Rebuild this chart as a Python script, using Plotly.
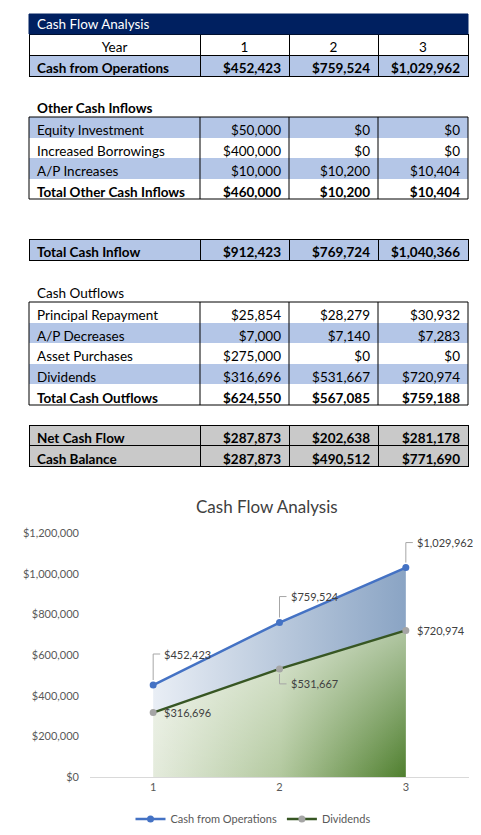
import plotly.graph_objects as go

W, H = 481, 835

# data
years = [1, 2, 3]
cash_from_operations = [452423, 759524, 1029962]
equity_investment = [50000, 0, 0]
increased_borrowings = [400000, 0, 0]
ap_increases = [10000, 10200, 10404]
total_other_inflows = [460000, 10200, 10404]
total_cash_inflow = [912423, 769724, 1040366]
principal_repayment = [25854, 28279, 30932]
ap_decreases = [7000, 7140, 7283]
asset_purchases = [275000, 0, 0]
dividends = [316696, 531667, 720974]
total_cash_outflows = [624550, 567085, 759188]
net_cash_flow = [287873, 202638, 281178]
cash_balance = [287873, 490512, 771690]

# label placement (pixel offsets from the points)
ops_label_dy = [31, 26, 25]
div_label_dy = [0, -15, 0]
div_leader = [False, True, False]

FONT = "Lato"
TSIZE = 13.5
NAVY = "#002060"
LIGHT_BLUE = "#b4c6e7"
GREY = "#c9c9c9"
col_edges = [29, 200, 289, 378, 468]
col_widths = [b - a for a, b in zip(col_edges, col_edges[1:])]


def px(x):
    return x / W


def py(y):
    return 1 - y / H


def money(v):
    return f"${v:,}"


def row(label, vals, fill, b=False):
    return ([label] + [money(v) for v in vals], fill, "bold" if b else "normal")


fig = go.Figure()
shapes = []
annotations = []


def add_table(rows, top, row_h, all_lines=False, head_align=None):
    # rows: (cells, fill, weight); first row goes in the header, body rows share one weight
    align = ["left", "right", "right", "right"]
    head, head_fill, head_weight = rows[0]
    body = rows[1:]
    bottom = top + row_h * len(rows)
    body_vals = [[r[0][c] for r in body] for c in range(4)]
    body_fill = [[r[1] for r in body] for c in range(4)]
    body_weight = body[0][2] if body else "normal"
    line = dict(color="black", width=1) if all_lines else dict(color="rgba(0,0,0,0)", width=0)
    fig.add_trace(go.Table(
        domain=dict(x=[px(col_edges[0]), px(col_edges[-1])], y=[py(bottom + 20), py(top)]),
        columnwidth=col_widths,
        header=dict(values=head, fill_color=head_fill, align=head_align or align,
                    height=row_h, line=line,
                    font=dict(family=FONT, size=TSIZE, color="black", weight=head_weight)),
        cells=dict(values=body_vals, fill_color=body_fill, align=align,
                   height=row_h, line=line,
                   font=dict(family=FONT, size=TSIZE, color="black", weight=body_weight)),
    ))
    return bottom


def add_border(top, bottom):
    shapes.append(dict(type="rect", xref="paper", yref="paper", x0=px(col_edges[0]), x1=px(col_edges[-1]),
                       y0=py(bottom), y1=py(top), line=dict(color="black", width=1)))
    for e in col_edges[1:-1]:
        shapes.append(dict(type="line", xref="paper", yref="paper", x0=px(e), x1=px(e),
                           y0=py(bottom), y1=py(top), line=dict(color="black", width=1)))


# title bar
shapes.append(dict(type="rect", xref="paper", yref="paper", x0=px(29), x1=px(468), y0=py(34), y1=py(14),
                   fillcolor=NAVY, line=dict(color=NAVY, width=1)))
annotations.append(dict(text="Cash Flow Analysis", x=px(35), y=py(24), xref="paper", yref="paper",
                        xanchor="left", yanchor="middle", showarrow=False,
                        font=dict(family=FONT, size=TSIZE, color="white")))

# year / operations
add_table([
    (["Year"] + [str(y) for y in years], "white", "normal"),
    row("Cash from Operations", cash_from_operations, LIGHT_BLUE, True),
], 34, 21, all_lines=True, head_align=["center"] * 4)

# other inflows
annotations.append(dict(text="Other Cash Inflows", x=px(35), y=py(108), xref="paper", yref="paper",
                        xanchor="left", yanchor="middle", showarrow=False,
                        font=dict(family=FONT, size=TSIZE, color="black", weight="bold")))
b = add_table([
    row("Equity Investment", equity_investment, LIGHT_BLUE),
    row("Increased Borrowings", increased_borrowings, "white"),
    row("A/P Increases", ap_increases, LIGHT_BLUE),
], 117, 20.5)
b = add_table([row("Total Other Cash Inflows", total_other_inflows, "white", True)], b, 20.5)
add_border(117, b)

add_table([
    row("Total Cash Inflow", total_cash_inflow, LIGHT_BLUE, True),
], 239, 21.5, all_lines=True)

# outflows
annotations.append(dict(text="Cash Outflows", x=px(35), y=py(293), xref="paper", yref="paper",
                        xanchor="left", yanchor="middle", showarrow=False,
                        font=dict(family=FONT, size=TSIZE, color="black")))
b = add_table([
    row("Principal Repayment", principal_repayment, "white"),
    row("A/P Decreases", ap_decreases, LIGHT_BLUE),
    row("Asset Purchases", asset_purchases, "white"),
    row("Dividends", dividends, LIGHT_BLUE),
], 302, 20.6)
b = add_table([row("Total Cash Outflows", total_cash_outflows, "white", True)], b, 20.6)
add_border(302, b)

add_table([
    row("Net Cash Flow", net_cash_flow, GREY, True),
    row("Cash Balance", cash_balance, GREY, True),
], 425, 20.5, all_lines=True)

# chart: areas (diagonal-looking gradient = horizontal base + vertical white veil)
fig.add_trace(go.Scatter(
    x=years, y=dividends, mode="none", fill="tozeroy", showlegend=False, hoverinfo="skip",
    fillgradient=dict(type="horizontal",
                      colorscale=[[0, "#e4ebdc"], [0.5, "#b3c99f"], [1, "#4f7f2e"]]),
))
fig.add_trace(go.Scatter(
    x=years, y=dividends, mode="none", fill="tozeroy", showlegend=False, hoverinfo="skip",
    fillgradient=dict(type="vertical",
                      colorscale=[[0, "rgba(255,255,255,0)"], [1, "rgba(255,255,255,0.55)"]]),
))
fig.add_trace(go.Scatter(
    x=years, y=cash_from_operations, mode="none", fill="tonexty", showlegend=False, hoverinfo="skip",
    fillgradient=dict(type="horizontal",
                      colorscale=[[0, "#e9eef5"], [1, "#8aa4c4"]]),
))
# chart: lines
fig.add_trace(go.Scatter(
    x=years, y=cash_from_operations, mode="lines+markers", name="Cash from Operations",
    line=dict(color="#4472c4", width=2.5), marker=dict(color="#4472c4", size=7),
))
fig.add_trace(go.Scatter(
    x=years, y=dividends, mode="lines+markers", name="Dividends",
    line=dict(color="#375623", width=2.5), marker=dict(color="#a5a5a5", size=7),
))

label_font = dict(family=FONT, size=11, color="#404040")
for x, v, dy in zip(years, cash_from_operations, ops_label_dy):
    shapes.append(dict(type="path", xref="x", yref="y", xsizemode="pixel", ysizemode="pixel",
                       xanchor=x, yanchor=v, path=f"M0,5 L0,{dy} L7,{dy}",
                       line=dict(color="#a6a6a6", width=1)))
    annotations.append(dict(text=money(v), x=x, y=v, xref="x", yref="y", xanchor="left", yanchor="middle",
                            xshift=9, yshift=dy, showarrow=False, font=label_font))
for x, v, dy, lead in zip(years, dividends, div_label_dy, div_leader):
    if lead:
        shapes.append(dict(type="path", xref="x", yref="y", xsizemode="pixel", ysizemode="pixel",
                           xanchor=x, yanchor=v, path=f"M0,-5 L0,{dy} L7,{dy}",
                           line=dict(color="#a6a6a6", width=1)))
    annotations.append(dict(text=money(v), x=x, y=v, xref="x", yref="y", xanchor="left", yanchor="middle",
                            xshift=9, yshift=dy, showarrow=False, font=label_font))

annotations.append(dict(text="Cash Flow Analysis", x=px(267), y=py(506), xref="paper", yref="paper",
                        xanchor="center", yanchor="middle", showarrow=False,
                        font=dict(family=FONT, size=17, color="#404040")))

fig.update_layout(
    width=W, height=H,
    margin=dict(l=0, r=0, t=0, b=0),
    paper_bgcolor="white", plot_bgcolor="white",
    font=dict(family=FONT, size=11, color="#595959"),
    xaxis=dict(domain=[px(90), px(469)], range=[0.5, 3.5], tickvals=years, ticks="",
               showline=True, linecolor="#d9d9d9", linewidth=1, showgrid=False, zeroline=False,
               automargin=False, fixedrange=True, tickfont=dict(family=FONT, size=11, color="#595959")),
    yaxis=dict(domain=[py(777), py(533)], range=[0, 1200000], dtick=200000, tickformat="$,.0f",
               showline=False, showgrid=False, zeroline=False, automargin=False, fixedrange=True,
               ticklabelstandoff=10, tickfont=dict(family=FONT, size=11, color="#595959")),
    legend=dict(orientation="h", x=px(253), xanchor="center", y=py(819), yanchor="middle",
                traceorder="normal", font=dict(family=FONT, size=11, color="#595959"), itemwidth=30),
    shapes=shapes,
    annotations=annotations,
    showlegend=True,
)

fig.write_html("out.html", config={"displayModeBar": False},
               post_script="document.body.style.margin='0';")
